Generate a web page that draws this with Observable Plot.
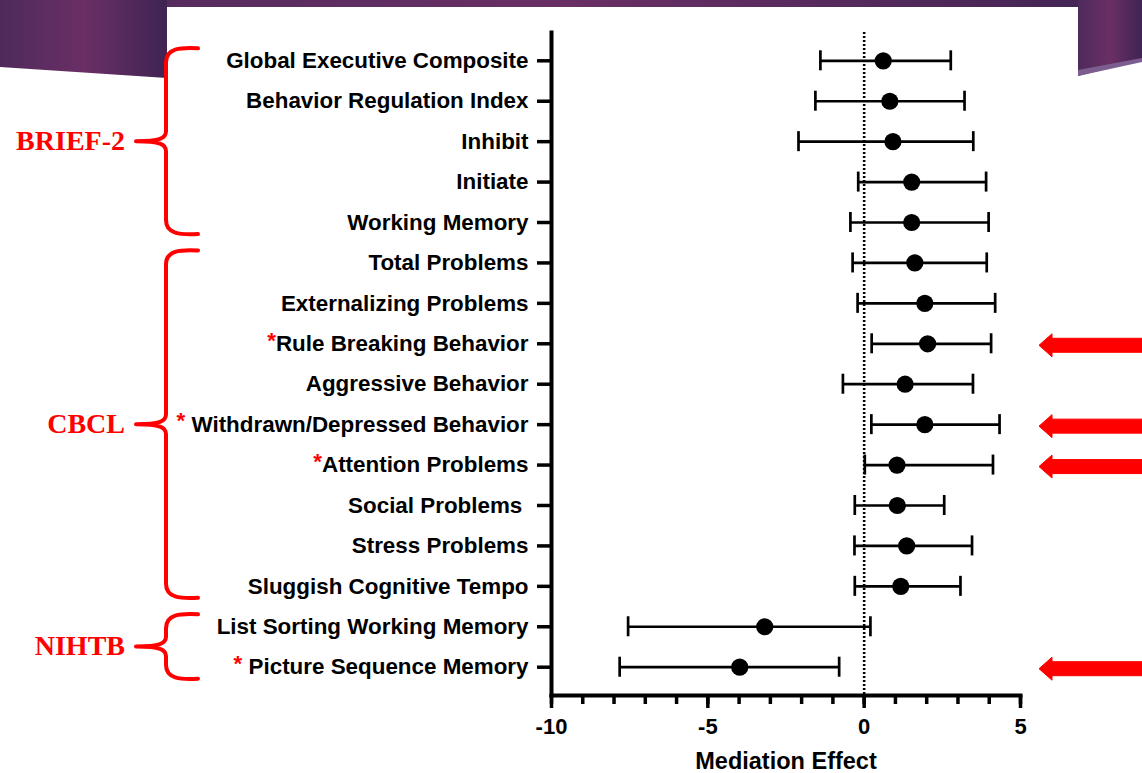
<!DOCTYPE html>
<html>
<head>
<meta charset="utf-8">
<script src="https://cdn.jsdelivr.net/npm/d3@7"></script>
<script src="https://cdn.jsdelivr.net/npm/@observablehq/plot@0.6"></script>
<style>
  html, body { margin: 0; padding: 0; background: #ffffff; }
  #wrap { position: relative; width: 1142px; height: 773px; overflow: hidden; }
  #bg, #chart { position: absolute; left: 0; top: 0; }
</style>
</head>
<body>
<div id="wrap">
  <svg id="bg" width="1142" height="773">
    <defs>
      <linearGradient id="purple" x1="0" x2="1" y1="0" y2="0">
        <stop offset="0" stop-color="#4e2a5b"/>
        <stop offset="0.5" stop-color="#6a2f65"/>
        <stop offset="1" stop-color="#3f2453"/>
      </linearGradient>
    </defs>
    <rect x="0" y="0" width="1142" height="773" fill="#ffffff"/>
    <rect x="0" y="0" width="1142" height="7" fill="url(#purple)"/>
    <polygon points="0,0 167,0 167,78 0,67" fill="url(#purple)"/>
    <polygon points="1078,0 1142,0 1142,60 1078,76" fill="url(#purple)"/>
    <polygon points="1078,70 1142,58 1142,62 1078,76" fill="#7b5e8f"/>
  </svg>
  <div id="chart"></div>
</div>
<script>
// ---- data ----
const labels = [
  "Global Executive Composite",
  "Behavior Regulation Index",
  "Inhibit",
  "Initiate",
  "Working Memory",
  "Total Problems",
  "Externalizing Problems",
  "*Rule Breaking Behavior",
  "Aggressive Behavior",
  "* Withdrawn/Depressed Behavior",
  "*Attention Problems",
  "Social Problems\u00a0",
  "Stress Problems",
  "Sluggish Cognitive Tempo",
  "List Sorting Working Memory",
  "* Picture Sequence Memory"
];
const estimate = [0.61, 0.82, 0.92, 1.52, 1.52, 1.62, 1.94, 2.03, 1.31, 1.94, 1.05, 1.06, 1.36, 1.17, -3.18, -3.98];
const lower    = [-1.40, -1.56, -2.10, -0.19, -0.44, -0.37, -0.21, 0.24, -0.68, 0.23, 0.02, -0.30, -0.31, -0.30, -7.55, -7.82];
const upper    = [2.77, 3.21, 3.49, 3.90, 3.98, 3.92, 4.19, 4.06, 3.48, 4.33, 4.12, 2.56, 3.45, 3.08, 0.20, -0.80];
const highlighted = [false, false, false, false, false, false, false, true, false, true, true, false, false, false, false, true];

const groupNames = ["BRIEF-2", "CBCL", "NIHTB"];
const groupFirst = [0, 5, 14];
const groupLast  = [4, 13, 15];

const xTicksAll = d3.range(-10, 6);
const xTicksLabeled = [-10, -5, 0, 5];
const xTitle = "Mediation Effect";

const rows = labels.map((label, i) => ({label, est: estimate[i], lo: lower[i], hi: upper[i], hl: highlighted[i]}));

const RED = "#ff0000";
const capInset = 10.2;

const chart = Plot.plot({
  width: 1142,
  height: 773,
  marginLeft: 551,
  marginRight: 122,
  marginTop: 32,
  marginBottom: 78,
  style: {
    background: "transparent",
    fontFamily: "'Liberation Sans', Arial, sans-serif",
    fontWeight: "bold",
    color: "#000",
    overflow: "visible"
  },
  x: {domain: [-10, 5]},
  y: {type: "band", domain: labels, paddingInner: 0, paddingOuter: 0.2, round: false},
  marks: [
    Plot.ruleX([0], {stroke: "#000", strokeWidth: 2.6, strokeDasharray: "2,2"}),
    Plot.axisY({tickSize: 14, tickPadding: 9, fontSize: 22.4, strokeWidth: 3.5, tickFormat: d => d, label: null}),
    Plot.axisX({ticks: xTicksAll, tickSize: 9, strokeWidth: 3.5, tickFormat: () => "", label: null}),
    Plot.axisX({ticks: xTicksLabeled, tickSize: 13, tickPadding: 10, strokeWidth: 3.5, fontSize: 22, tickFormat: d => String(d), label: null}),
    Plot.text([xTitle], {frameAnchor: "bottom", dy: 66, fontSize: 23.5, fontWeight: "bold", fill: "#000", lineAnchor: "middle"}),
    Plot.frame({anchor: "left", stroke: "#000", strokeWidth: 4}),
    Plot.frame({anchor: "bottom", stroke: "#000", strokeWidth: 4}),
    Plot.ruleY(rows, {y: "label", x1: "lo", x2: "hi", stroke: "#000", strokeWidth: 2.7}),
    Plot.tickX(rows, {y: "label", x: "lo", stroke: "#000", strokeWidth: 2.7, insetTop: capInset, insetBottom: capInset}),
    Plot.tickX(rows, {y: "label", x: "hi", stroke: "#000", strokeWidth: 2.7, insetTop: capInset, insetBottom: capInset}),
    Plot.dot(rows, {y: "label", x: "est", r: 8.6, fill: "#000", stroke: null})
  ]
});
document.getElementById("chart").appendChild(chart);

// ---- red asterisks in tick labels ----
const svg = d3.select(chart);
svg.selectAll('g[aria-label="y-axis tick label"] text').each(function() {
  const t = d3.select(this);
  const s = t.text();
  if (s.startsWith("*")) {
    t.text(null);
    t.append("tspan").attr("fill", RED).attr("dy", "-0.15em").text("*");
    t.append("tspan").attr("dy", "0.15em").attr("fill", "#000").text(s.slice(1));
  }
});

// ---- group braces & labels, driven by the y scale ----
const ys = chart.scale("y");
const center = l => ys.apply(l) + ys.bandwidth / 2;
const spineX = 166, endX = 198, tipX = 136;
const overlay = svg.append("g").attr("aria-label", "group braces");
groupNames.forEach((name, g) => {
  const top = center(labels[groupFirst[g]]) - 12;
  const bot = center(labels[groupLast[g]]) + 12;
  const mid = (top + bot) / 2;
  const p = `M${endX},${top} C${endX - 18},${top - 1} ${spineX},${top} ${spineX},${top + 14}
             L${spineX},${mid - 10} C${spineX},${mid - 3} ${spineX - 6},${mid} ${tipX},${mid}
             C${spineX - 6},${mid} ${spineX},${mid + 3} ${spineX},${mid + 10}
             L${spineX},${bot - 14} C${spineX},${bot} ${endX - 18},${bot + 1} ${endX},${bot}`;
  overlay.append("path").attr("d", p).attr("fill", "none").attr("stroke", RED)
    .attr("stroke-width", 4).attr("stroke-linecap", "round").attr("stroke-linejoin", "round");
  overlay.append("text").attr("x", 125).attr("y", mid + 2)
    .attr("text-anchor", "end").attr("dominant-baseline", "middle")
    .attr("font-family", "'Liberation Serif', 'Times New Roman', serif")
    .attr("font-weight", "bold").attr("font-size", 28).attr("fill", RED).text(name);
});

// ---- red arrows at highlighted rows ----
const arrows = svg.append("g").attr("aria-label", "highlight arrows");
rows.filter(r => r.hl).forEach(r => {
  const c = center(r.label) + 2;
  const tip = 1039, base = 1052, end = 1146;
  arrows.append("polygon")
    .attr("points", [[tip, c], [base, c - 11.5], [base, c - 7], [end, c - 7], [end, c + 7], [base, c + 7], [base, c + 11.5]].map(d => d.join(",")).join(" "))
    .attr("fill", RED).attr("stroke", RED).attr("stroke-width", 1).attr("stroke-linejoin", "round");
});
</script>
</body>
</html>
